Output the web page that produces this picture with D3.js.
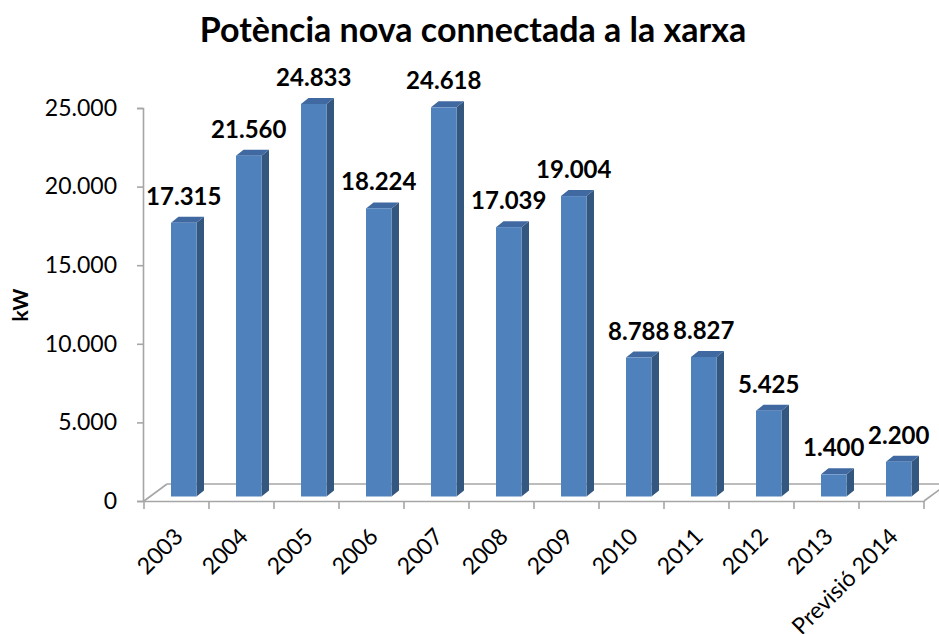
<!DOCTYPE html>
<html>
<head>
<meta charset="utf-8">
<script src="https://cdn.jsdelivr.net/npm/d3@7"></script>
<style>
  body { margin: 0; background: #fff; }
  text { font-family: Lato, "Liberation Sans", sans-serif; fill: #000; }
</style>
</head>
<body>
<script>
'use strict';

// chart data
var years = ['2003', '2004', '2005', '2006', '2007', '2008', '2009', '2010', '2011', '2012', '2013', 'Previsió 2014'];
var power = [17315, 21560, 24833, 18224, 24618, 17039, 19004, 8788, 8827, 5425, 1400, 2200];
var yTicks = [0, 5000, 10000, 15000, 20000, 25000];

var width = 939;
var height = 634;

// excel style number format: dot as thousands separator
var fmt = function(v) {
  return d3.format(',')(v).replace(/,/g, '.');
};

var svg = d3.select('body').append('svg')
  .attr('width', width)
  .attr('height', height);

// front plane of the 3d box
var x = d3.scaleBand()
  .domain(years)
  .range([144, 924]);

var yAxisScale = d3.scaleLinear()
  .domain([0, 25000])
  .range([501, 108]);

// bars stand a bit further back, in the middle of the floor
var yBar = d3.scaleLinear()
  .domain([0, 25000])
  .range([496.5, 101.3]);

var depth = { dx: 23, dy: 17 };   // floor depth
var barDepth = { dx: 7.5, dy: 6 };
var barOffset = 27;
var barWidth = 25.5;

// floor of the 3d chart
var floorColor = '#a6a6a6';
var floor = svg.append('g')
  .attr('stroke', floorColor)
  .attr('stroke-width', 1.6)
  .attr('fill', 'none');

floor.append('path')
  .attr('d', 'M' + (144 + depth.dx) + ',' + (501 - depth.dy) + 'H' + (924 + depth.dx));
floor.append('path')
  .attr('d', 'M144,501L' + (144 + depth.dx) + ',' + (501 - depth.dy));
floor.append('path')
  .attr('d', 'M924,501L' + (924 + depth.dx) + ',' + (501 - depth.dy));

// bars
var bars = svg.append('g')
  .selectAll('g')
  .data(power)
  .enter().append('g');

bars.append('path')  // side
  .attr('fill', '#34577f')
  .attr('d', function(d, i) {
    var x1 = x(years[i]) + barOffset + barWidth;
    var yt = yBar(d), yb = yBar(0);
    return 'M' + x1 + ',' + yt + 'L' + (x1 + barDepth.dx) + ',' + (yt - barDepth.dy) +
      'L' + (x1 + barDepth.dx) + ',' + (yb - barDepth.dy) + 'L' + x1 + ',' + yb + 'Z';
  });

bars.append('path')  // top
  .attr('fill', '#3f69a0')
  .attr('d', function(d, i) {
    var x0 = x(years[i]) + barOffset;
    var x1 = x0 + barWidth;
    var yt = yBar(d);
    return 'M' + x0 + ',' + yt + 'L' + (x0 + barDepth.dx) + ',' + (yt - barDepth.dy) +
      'L' + (x1 + barDepth.dx) + ',' + (yt - barDepth.dy) + 'L' + x1 + ',' + yt + 'Z';
  });

bars.append('rect')  // front
  .attr('fill', '#4f81bd')
  .attr('x', function(d, i) { return x(years[i]) + barOffset; })
  .attr('y', function(d) { return yBar(d); })
  .attr('width', barWidth)
  .attr('height', function(d) { return yBar(0) - yBar(d); });

// value labels
bars.append('text')
  .attr('x', function(d, i) { return x(years[i]) + barOffset + barWidth / 2; })
  .attr('y', function(d) { return yBar(d) - 18; })
  .attr('text-anchor', 'middle')
  .style('font-size', '24px')
  .style('font-weight', 'bold')
  .text(function(d) { return fmt(d); });

// front base line and category ticks
var xAxis = svg.append('g')
  .attr('transform', 'translate(0,501)')
  .call(d3.axisBottom(x).tickSize(0).tickFormat(''));
xAxis.select('.domain').attr('stroke', floorColor).attr('stroke-width', 1.6);
xAxis.selectAll('.cat-tick')
  .data(d3.range(years.length + 1))
  .enter().append('line')
  .attr('class', 'cat-tick')
  .attr('x1', function(i) { return 144 + i * x.step(); })
  .attr('x2', function(i) { return 144 + i * x.step(); })
  .attr('y1', 0)
  .attr('y2', 8)
  .attr('stroke', floorColor)
  .attr('stroke-width', 1.6);

xAxis.selectAll('.cat-label')
  .data(years)
  .enter().append('text')
  .attr('class', 'cat-label')
  .attr('text-anchor', 'end')
  .attr('transform', function(d) {
    return 'translate(' + (x(d) + x.bandwidth() / 2 + 8) + ',37)rotate(-45)';
  })
  .style('font-size', '23px')
  .text(function(d) { return d; });

// value axis
var yAxis = svg.append('g')
  .attr('transform', 'translate(143,0)')
  .call(d3.axisLeft(yAxisScale).tickValues(yTicks).tickSize(6).tickPadding(20).tickFormat(fmt));
yAxis.select('.domain').attr('stroke', floorColor).attr('stroke-width', 1.6);
yAxis.selectAll('.tick line').attr('stroke', floorColor).attr('stroke-width', 1.6);
yAxis.selectAll('.tick text')
  .style('font-size', '23px')
  .style('font-family', 'Lato, sans-serif')
  .attr('fill', '#000');

// axis title
svg.append('text')
  .attr('transform', 'translate(28,305)rotate(-90)')
  .attr('text-anchor', 'middle')
  .style('font-size', '21px')
  .style('font-weight', 'bold')
  .text('kW');

// chart title
svg.append('text')
  .attr('x', 473)
  .attr('y', 42)
  .attr('text-anchor', 'middle')
  .style('font-size', '34px')
  .style('font-weight', 'bold')
  .text('Potència nova connectada a la xarxa');
</script>
</body>
</html>
